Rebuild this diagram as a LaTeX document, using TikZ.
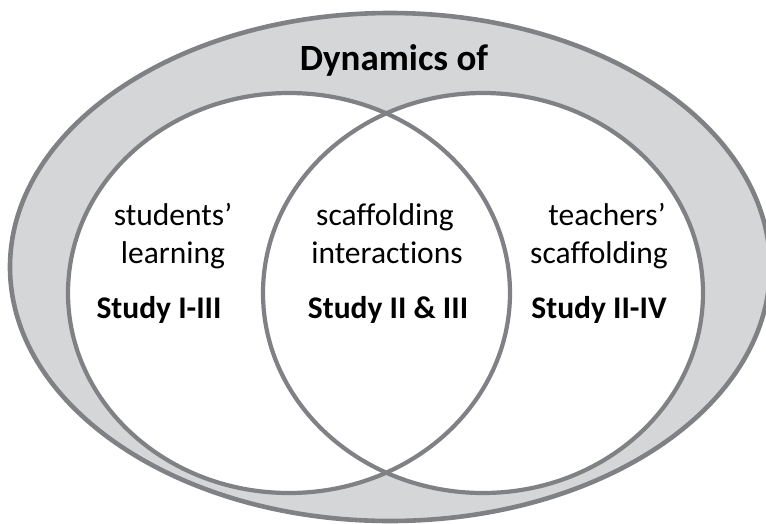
\documentclass[tikz,border=0pt]{standalone}
\usepackage{fontspec}
\setmainfont{Carlito}[Ligatures={NoCommon}]
\definecolor{ringline}{RGB}{128,129,132}
\definecolor{ringfill}{RGB}{213,214,216}
\begin{document}
\begin{tikzpicture}[x=1pt,y=-1pt,
  rim/.style={draw=ringline,line width=4.6pt},
  lbl/.style={anchor=base,inner sep=0pt,font=\fontsize{31.5}{36}\selectfont},
  blbl/.style={lbl,font=\fontsize{31.5}{36}\selectfont\bfseries},
  ttl/.style={anchor=base,inner sep=0pt,font=\fontsize{37}{42}\selectfont\bfseries}]
\useasboundingbox (0,0) rectangle (766,523);
\clip (0,0) rectangle (766,523);
\coordinate (outerC) at (390,267);
\coordinate (leftC) at (289,293);
\coordinate (rightC) at (483,293);
% outer ring
\path[rim,fill=ringfill] (outerC) ellipse [x radius=380pt, y radius=254pt];
% inner circles
\path[fill=white] (leftC) ellipse [x radius=221pt, y radius=200pt];
\path[fill=white] (rightC) ellipse [x radius=220pt, y radius=200pt];
\path[rim,line width=4.2pt] (leftC) ellipse [x radius=221pt, y radius=200pt];
\path[rim,line width=4.2pt] (rightC) ellipse [x radius=220pt, y radius=200pt];
% texts
\node[ttl] (title) at (394,70) {Dynamics of};
\node[lbl] (l1) at (173,225) {students’};
\node[lbl] (l2) at (173,263) {learning};
\node[blbl] (l3) at (159,318) {Study I-III};
\node[lbl] (m1) at (385,225) {scaffolding};
\node[lbl] (m2) at (387,263) {interactions};
\node[blbl] (m3) at (388,318) {Study II \& III};
\node[lbl] (r1) at (607,225) {teachers’};
\node[lbl] (r2) at (599,263) {scaffolding};
\node[blbl] (r3) at (599,318) {Study II-IV};
\end{tikzpicture}
\end{document}
